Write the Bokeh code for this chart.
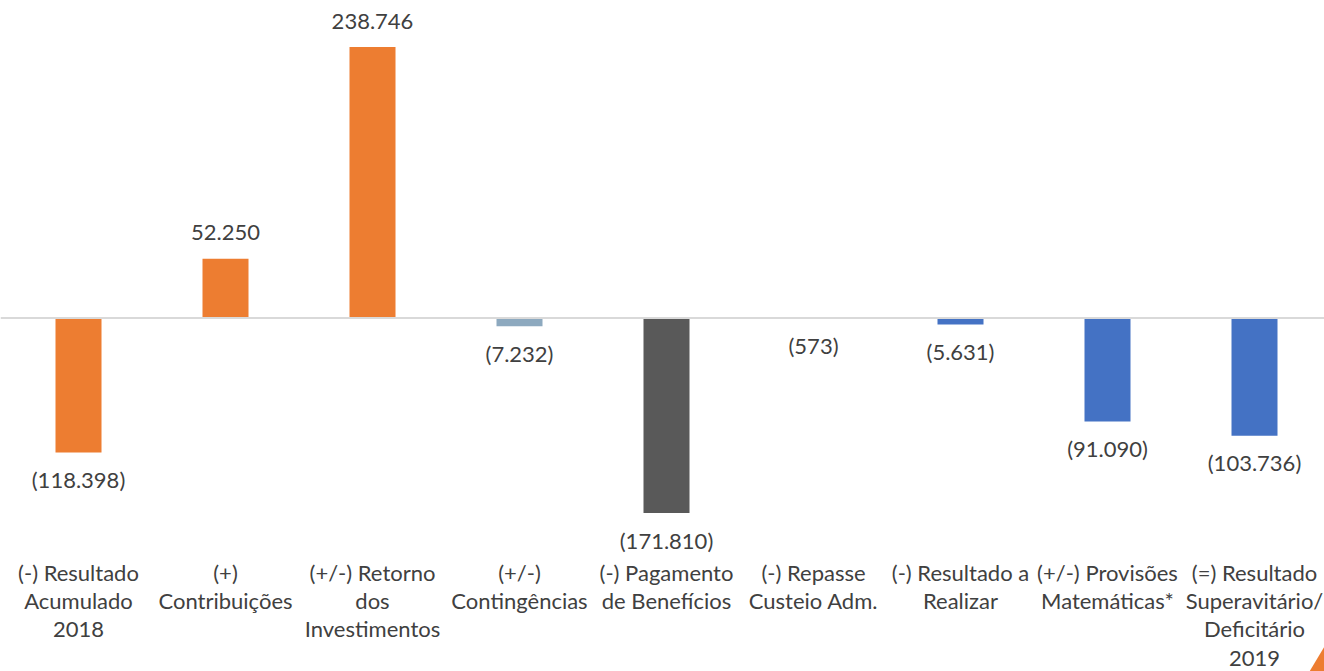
from bokeh.plotting import figure
from bokeh.models import Range1d, ColumnDataSource, Span
from bokeh.embed import file_html
from bokeh.resources import INLINE
from bokeh.core.properties import value

# ---- data ----
categories = [
    "(-) Resultado\nAcumulado\n2018",
    "(+)\nContribuições",
    "(+/-) Retorno\ndos\nInvestimentos",
    "(+/-)\nContingências",
    "(-) Pagamento\nde Benefícios",
    "(-) Repasse\nCusteio Adm.",
    "(-) Resultado a\nRealizar",
    "(+/-) Provisões\nMatemáticas*",
    "(=) Resultado\nSuperavitário/\nDeficitário\n2019",
]
values = [-118398, 52250, 238746, -7232, -171810, -573, -5631, -91090, -103736]
colors = ["#ED7D31", "#ED7D31", "#ED7D31", "#8DA9BF", "#595959",
          "#D6DCE5", "#4472C4", "#4472C4", "#4472C4"]


def fmt(v):
    s = f"{abs(v):,}".replace(",", ".")
    return f"({s})" if v < 0 else s


# ---- layout constants ----
W, H = 1324, 671
CAT_PX = 147.0        # pixel width of one category
FIRST_CENTER_PX = 78.0
ZERO_PX = 317.5       # pixel row of zero line
K = 0.001135          # pixels per unit

x0 = -FIRST_CENTER_PX / CAT_PX
x1 = x0 + W / CAT_PX
y_top = ZERO_PX / K
y_bot = -(H - ZERO_PX) / K


def px_to_y(py):
    return (ZERO_PX - py) / K


def px_to_x(px):
    return x0 + px / CAT_PX


FONT = value("Lato")
TXT = "#404040"

p = figure(width=W, height=H, output_backend="svg", toolbar_location=None,
           x_range=Range1d(x0, x1), y_range=Range1d(y_bot, y_top),
           x_axis_location=None, y_axis_location=None,
           min_border=0, min_border_left=0, min_border_right=0,
           min_border_top=0, min_border_bottom=0)
p.outline_line_color = None
p.xgrid.visible = False
p.ygrid.visible = False
p.background_fill_color = "white"
p.border_fill_color = "white"

xs = list(range(len(values)))
src = ColumnDataSource(dict(
    x=xs, top=values, color=colors,
    label=[fmt(v) for v in values],
    off=[-26 if v >= 0 else 27 for v in values],
))

p.add_layout(Span(location=0, dimension="width", line_color="#D9D9D9", line_width=2))

p.vbar(x="x", top="top", bottom=0, width=46 / CAT_PX, fill_color="color",
       line_color=None, source=src)

p.text(x="x", y="top", text="label", y_offset="off", source=src,
       text_align="center", text_baseline="middle", text_font=FONT,
       text_font_size="22px", text_color=TXT)

cat_src = ColumnDataSource(dict(x=xs, y=[px_to_y(558)] * len(xs), text=categories))
p.text(x="x", y="y", text="text", source=cat_src, text_align="center",
       text_baseline="top", text_font=FONT, text_font_size="22px",
       text_color=TXT, text_line_height=1.05)

# decorative corner triangle
p.patch(x=[px_to_x(1309), px_to_x(1324), px_to_x(1324)],
        y=[px_to_y(671), px_to_y(646), px_to_y(671)],
        fill_color="#ED7D31", line_color=None)

open("out.html", "w").write(file_html(p, INLINE))
